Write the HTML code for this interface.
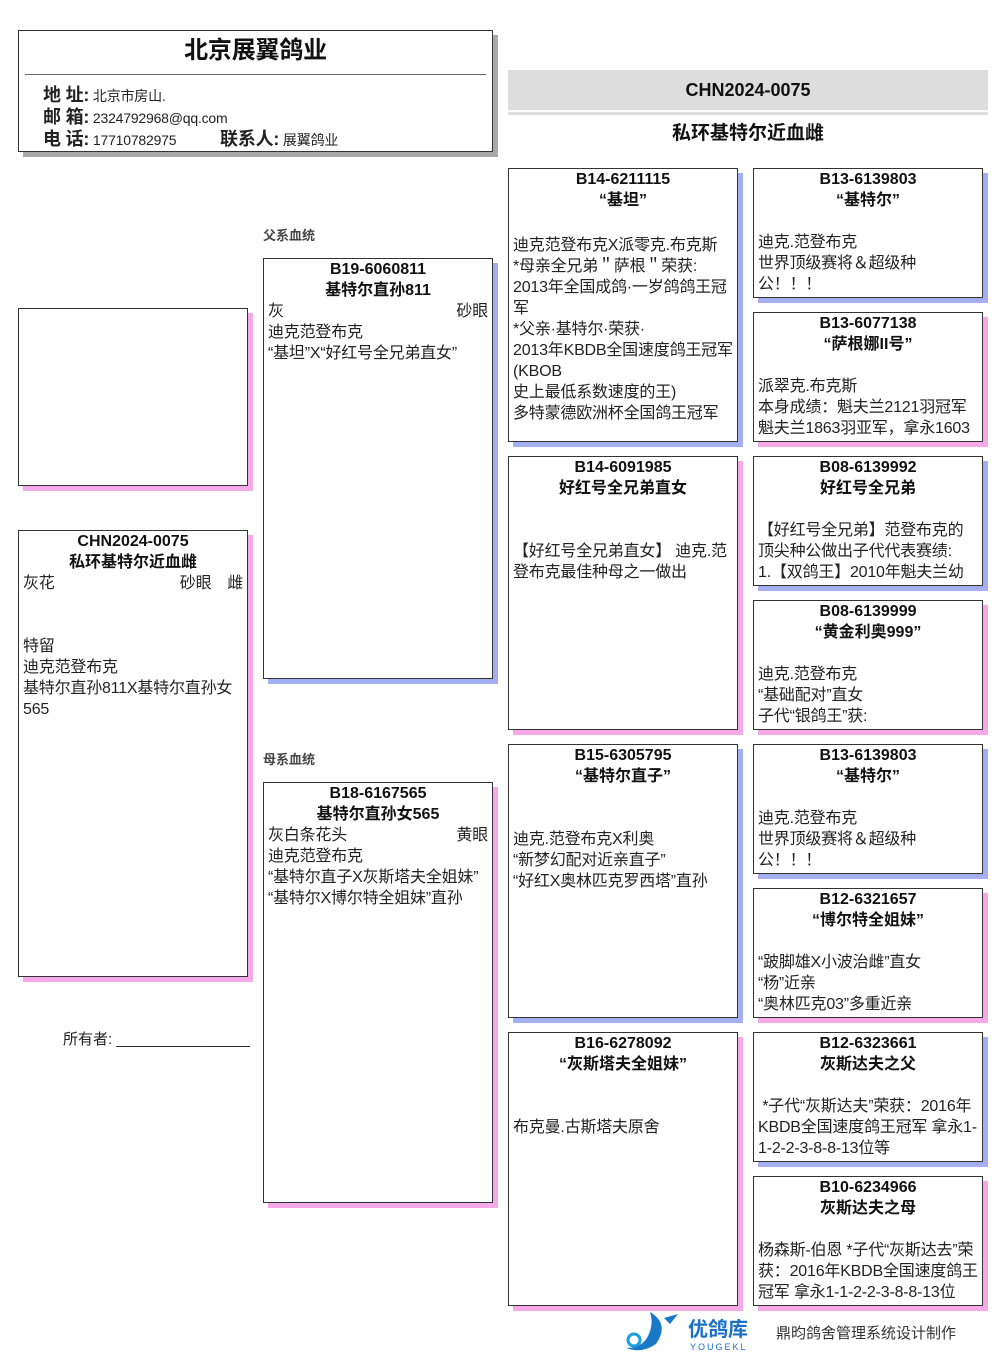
<!DOCTYPE html>
<html><head><meta charset="utf-8"><style>
body{margin:0;width:1006px;height:1366px;background:#fff;position:relative;font-family:"Liberation Sans","Noto Sans CJK SC",sans-serif;color:#222;overflow:hidden}
.b{position:absolute;border:1px solid #333;background:#fff;box-sizing:border-box;font-size:16px;line-height:21px;padding:0 4px;overflow:hidden;letter-spacing:-0.2px}
.m{box-shadow:5px 5px 0 #a3aff2}
.f{box-shadow:5px 5px 0 #f5a9e9}
.t{text-align:center;font-weight:bold;font-size:16px;color:#111;letter-spacing:0}
.a{position:absolute}
.r{display:flex;justify-content:space-between}
</style></head><body>
<div class="b" style="left:18px;top:30px;width:475px;height:122px;box-shadow:5px 5px 0 #aaa;padding:0">
<div style="text-align:center;font-weight:bold;font-size:24px;margin-top:9px;color:#111">北京展翼鸽业</div>
<div style="position:absolute;left:6px;right:6px;top:43px;border-top:1px solid #666"></div>
<div style="position:absolute;left:24px;top:54px;font-size:14px;line-height:21px">
<div><b style="font-size:18px">地 址:</b> 北京市房山.</div>
<div><b style="font-size:18px">邮 箱:</b> 2324792968@qq.com</div>
<div><b style="font-size:18px">电 话:</b> 17710782975 <span style="margin-left:40px"><b style="font-size:18px">联系人:</b> 展翼鸽业</span></div>
</div></div>
<div class="a" style="left:508px;top:70px;width:480px;height:40px;background:#ddd;text-align:center;font-weight:bold;font-size:18px;line-height:40px;color:#111">CHN2024-0075</div>
<div class="a" style="left:508px;top:112px;width:480px;height:3px;background:#ddd"></div>
<div class="a" style="left:508px;top:120px;width:480px;text-align:center;font-weight:bold;font-size:19px;line-height:28px;color:#111">私环基特尔近血雌</div>
<div class="a" style="left:263px;top:225px;font-size:13px;font-weight:bold;color:#444">父系血统</div>
<div class="a" style="left:263px;top:749px;font-size:13px;font-weight:bold;color:#444">母系血统</div>
<div class="b f" style="left:18px;top:308px;width:230px;height:178px"></div>
<div class="b f" style="left:18px;top:530px;width:230px;height:447px"><div class="t">CHN2024-0075<br>私环基特尔近血雌</div><div class="r"><span>灰花</span><span>砂眼　雌</span></div><br><br>特留<br>迪克范登布克<br>基特尔直孙811X基特尔直孙女565</div>
<div class="a" style="left:63px;top:1028px;font-size:15px">所有者: ________________</div>
<div class="b m" style="left:263px;top:258px;width:230px;height:421px"><div class="t">B19-6060811<br>基特尔直孙811</div><div class="r"><span>灰</span><span>砂眼 </span></div>迪克范登布克<br>“基坦”X“好红号全兄弟直女”</div>
<div class="b f" style="left:263px;top:782px;width:230px;height:421px"><div class="t">B18-6167565<br>基特尔直孙女565</div><div class="r"><span>灰白条花头</span><span>黄眼 </span></div>迪克范登布克<br>“基特尔直子X灰斯塔夫全姐妹”<br>“基特尔X博尔特全姐妹”直孙</div>
<div class="b m" style="left:508px;top:168px;width:230px;height:274px"><div class="t">B14-6211115<br>“基坦”</div><br><div style="margin-top:3px"></div>迪克范登布克X派零克.布克斯<br>*母亲全兄弟＂萨根＂荣获:<br>2013年全国成鸽·一岁鸽鸽王冠军<br>*父亲·基特尔·荣获·<br>2013年KBDB全国速度鸽王冠军(KBOB<br>史上最低系数速度的王)<br>多特蒙德欧洲杯全国鸽王冠军</div>
<div class="b f" style="left:508px;top:456px;width:230px;height:274px"><div class="t">B14-6091985<br>好红号全兄弟直女</div><br><br>【好红号全兄弟直女】 迪克.范登布克最佳种母之一做出</div>
<div class="b m" style="left:508px;top:744px;width:230px;height:274px"><div class="t">B15-6305795<br>“基特尔直子”</div><br><br>迪克.范登布克X利奥<br>“新梦幻配对近亲直子”<br>“好红X奥林匹克罗西塔”直孙</div>
<div class="b f" style="left:508px;top:1032px;width:230px;height:274px"><div class="t">B16-6278092<br>“灰斯塔夫全姐妹”</div><br><br>布克曼.古斯塔夫原舍</div>
<div class="b m" style="left:753px;top:168px;width:230px;height:130px"><div class="t">B13-6139803<br>“基特尔”</div><br>迪克.范登布克<br>世界顶级赛将＆超级种公！！！</div>
<div class="b f" style="left:753px;top:312px;width:230px;height:130px"><div class="t">B13-6077138<br>“萨根娜II号”</div><br>派翠克.布克斯<br>本身成绩：魁夫兰2121羽冠军<br>魁夫兰1863羽亚军，拿永1603</div>
<div class="b m" style="left:753px;top:456px;width:230px;height:130px"><div class="t">B08-6139992<br>好红号全兄弟</div><br>【好红号全兄弟】范登布克的顶尖种公做出子代代表赛绩:<br>1.【双鸽王】2010年魁夫兰幼</div>
<div class="b f" style="left:753px;top:600px;width:230px;height:130px"><div class="t">B08-6139999<br>“黄金利奥999”</div><br>迪克.范登布克<br>“基础配对”直女<br>子代“银鸽王”获:</div>
<div class="b m" style="left:753px;top:744px;width:230px;height:130px"><div class="t">B13-6139803<br>“基特尔”</div><br>迪克.范登布克<br>世界顶级赛将＆超级种公！！！</div>
<div class="b f" style="left:753px;top:888px;width:230px;height:130px"><div class="t">B12-6321657<br>“博尔特全姐妹”</div><br>“跛脚雄X小波治雌”直女<br>“杨”近亲<br>“奥林匹克03”多重近亲</div>
<div class="b m" style="left:753px;top:1032px;width:230px;height:130px"><div class="t">B12-6323661<br>灰斯达夫之父</div><br>&nbsp;*子代“灰斯达夫”荣获：2016年KBDB全国速度鸽王冠军 拿永1-1-2-2-3-8-8-13位等</div>
<div class="b f" style="left:753px;top:1176px;width:230px;height:130px"><div class="t">B10-6234966<br>灰斯达夫之母</div><br>杨森斯-伯恩 *子代“灰斯达去”荣获：2016年KBDB全国速度鸽王冠军 拿永1-1-2-2-3-8-8-13位</div>
<svg class="a" style="left:620px;top:1310px" width="65" height="45" viewBox="0 0 65 45"><path d="M30 2 Q50 14 36 34 Q22 44 6 38 Q22 38 28 26 Q34 14 30 2Z" fill="#1a78c8"/><circle cx="14" cy="30" r="6" fill="none" stroke="#1a9ee0" stroke-width="3"/><path d="M44 8 L58 4 L50 14Z" fill="#1a78c8"/></svg>
<div class="a" style="left:688px;top:1318px;font-size:20px;font-weight:bold;color:#1a6fc8;line-height:24px">优鸽库</div>
<div class="a" style="left:690px;top:1342px;font-size:9px;color:#1a6fc8;letter-spacing:2px">YOUGEKL</div>
<div class="a" style="left:776px;top:1322px;font-size:15px;color:#333">鼎昀鸽舍管理系统设计制作</div>
</body></html>
